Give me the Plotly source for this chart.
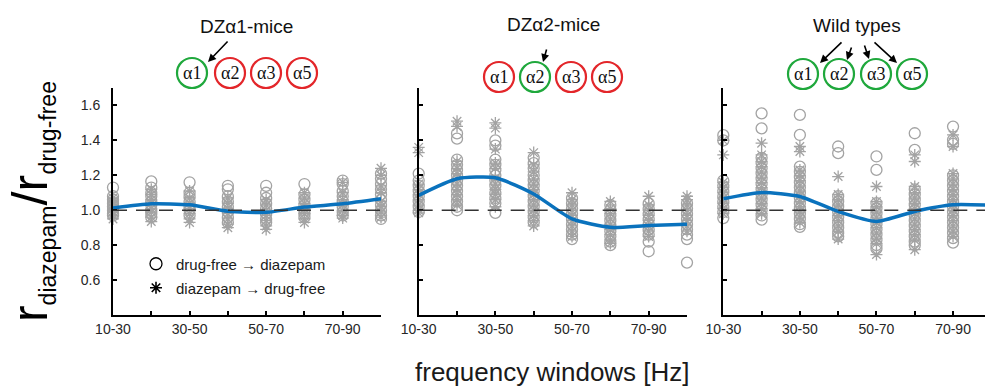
import plotly.graph_objects as go

# ---------------- data ----------------
windows = ["10-30", "20-40", "30-50", "40-60", "50-70", "60-80", "70-90", "80-100"]
tick_text = ["10-30", "", "30-50", "", "50-70", "", "70-90", ""]
y_ticks = [0.6, 0.8, 1.0, 1.2, 1.4, 1.6]

panel_titles = ["DZα1-mice", "DZα2-mice", "Wild types"]
subunits = ["α1", "α2", "α3", "α5"]
# which subunits stay diazepam-sensitive in each mouse line
p1_sensitive = [True, False, False, False]
p2_sensitive = [False, True, False, False]
p3_sensitive = [True, True, True, True]

legend_names = ["drug-free → diazepam", "diazepam → drug-free"]

# DZα1-mice
p1_circles = [
    [1.13, 1.08, 1.06, 1.04, 1.02, 1.0, 0.98, 0.97],
    [1.165, 1.13, 1.1, 1.08, 1.05, 1.03, 1.0, 0.98, 0.96],
    [1.16, 1.1, 1.08, 1.05, 1.02, 1.0, 0.97],
    [1.14, 1.12, 1.08, 1.05, 1.02, 0.99, 0.96, 0.93],
    [1.14, 1.1, 1.07, 1.04, 1.01, 0.98, 0.95, 0.93],
    [1.15, 1.09, 1.06, 1.03, 1.0, 0.98, 0.96],
    [1.17, 1.15, 1.11, 1.08, 1.05, 1.02, 0.99, 0.97],
    [1.21, 1.18, 1.15, 1.12, 1.09, 1.06, 1.03, 1.0, 0.97, 0.95],
]
p1_asterisks = [
    [1.07, 1.05, 1.03, 1.01, 0.99, 0.97, 0.95],
    [1.12, 1.09, 1.06, 1.04, 1.01, 0.99, 0.96, 0.935],
    [1.11, 1.07, 1.04, 1.01, 0.98, 0.95, 0.93],
    [1.07, 1.04, 1.01, 0.98, 0.95, 0.92, 0.9],
    [1.06, 1.03, 1.0, 0.97, 0.94, 0.91, 0.89],
    [1.1, 1.07, 1.04, 1.01, 0.98, 0.95, 0.93],
    [1.16, 1.1, 1.06, 1.03, 1.0, 0.97, 0.955],
    [1.24, 1.2, 1.14, 1.1, 1.05, 1.02, 0.99, 0.96],
]
p1_mean = [1.013, 1.037, 1.031, 0.994, 0.988, 1.018, 1.037, 1.066]

# DZα2-mice
p2_circles = [
    [1.21, 1.17, 1.14, 1.11, 1.08, 1.05, 1.02, 0.99],
    [1.44, 1.41, 1.29, 1.26, 1.23, 1.2, 1.17, 1.14, 1.11, 1.08, 1.05, 1.02, 1.0],
    [1.4, 1.37, 1.29, 1.26, 1.23, 1.2, 1.17, 1.14, 1.1, 1.07, 1.04, 0.985],
    [1.3, 1.27, 1.24, 1.2, 1.17, 1.14, 1.11, 1.08, 1.05, 1.02, 0.99, 0.96, 0.93],
    [1.07, 1.04, 1.01, 0.98, 0.95, 0.92, 0.89, 0.86, 0.835],
    [1.03, 1.0, 0.97, 0.94, 0.91, 0.88, 0.85, 0.82, 0.8],
    [1.04, 1.01, 0.98, 0.95, 0.92, 0.89, 0.86, 0.82, 0.765],
    [1.04, 1.01, 0.98, 0.95, 0.92, 0.89, 0.86, 0.835, 0.7],
]
p2_asterisks = [
    [1.36, 1.33, 1.15, 1.12, 1.09, 1.06, 1.03, 1.0, 0.985],
    [1.51, 1.48, 1.28, 1.24, 1.21, 1.18, 1.15, 1.12, 1.09, 1.06, 1.03],
    [1.5, 1.47, 1.35, 1.27, 1.24, 1.18, 1.15, 1.12, 1.09, 1.06, 1.02],
    [1.33, 1.26, 1.22, 1.18, 1.15, 1.12, 1.09, 1.06, 1.03, 1.0, 0.97, 0.94, 0.91],
    [1.1, 1.06, 1.03, 1.0, 0.97, 0.94, 0.91, 0.88, 0.85],
    [1.05, 1.01, 0.98, 0.95, 0.92, 0.89, 0.86, 0.83, 0.81],
    [1.08, 1.03, 1.0, 0.97, 0.94, 0.91, 0.88, 0.85],
    [1.08, 1.06, 1.03, 1.0, 0.97, 0.94, 0.91, 0.88],
]
p2_mean = [1.085, 1.18, 1.186, 1.093, 0.95, 0.902, 0.913, 0.92]

# Wild types
p3_circles = [
    [1.43, 1.4, 1.17, 1.14, 1.11, 1.08, 1.05, 1.02, 0.99, 0.955],
    [1.555, 1.469, 1.3, 1.27, 1.24, 1.21, 1.18, 1.15, 1.12, 1.09, 1.06, 1.03, 1.0, 0.97, 0.946],
    [1.546, 1.431, 1.25, 1.22, 1.19, 1.16, 1.13, 1.1, 1.07, 1.04, 1.01, 0.98, 0.95, 0.92, 0.905],
    [1.365, 1.327, 1.08, 1.05, 1.02, 0.99, 0.96, 0.93, 0.9, 0.87, 0.85],
    [1.308, 1.231, 1.04, 1.01, 0.98, 0.95, 0.92, 0.89, 0.86, 0.83, 0.8, 0.78],
    [1.441, 1.346, 1.12, 1.09, 1.06, 1.03, 1.0, 0.97, 0.94, 0.91, 0.88, 0.85, 0.82, 0.8],
    [1.479, 1.403, 1.38, 1.2, 1.17, 1.14, 1.11, 1.08, 1.05, 1.02, 0.99, 0.96, 0.93, 0.9, 0.87, 0.84, 0.815],
    [1.45, 1.22, 1.18, 1.14, 1.1, 1.06, 1.02, 0.98, 0.94],
]
p3_asterisks = [
    [1.4, 1.317, 1.16, 1.13, 1.1, 1.07, 1.04, 1.01, 0.98],
    [1.384, 1.317, 1.28, 1.25, 1.22, 1.19, 1.16, 1.13, 1.1, 1.07, 1.04, 1.01, 0.98],
    [1.365, 1.336, 1.23, 1.2, 1.17, 1.14, 1.11, 1.08, 1.05, 1.02, 0.99, 0.96, 0.93],
    [1.193, 1.09, 1.06, 1.03, 1.0, 0.97, 0.94, 0.91, 0.88, 0.835],
    [1.136, 1.05, 1.02, 0.99, 0.96, 0.93, 0.9, 0.87, 0.84, 0.81, 0.746],
    [1.317, 1.279, 1.136, 1.1, 1.07, 1.04, 1.01, 0.98, 0.95, 0.92, 0.89, 0.86, 0.83, 0.774],
    [1.431, 1.365, 1.21, 1.18, 1.15, 1.12, 1.09, 1.06, 1.03, 1.0, 0.97, 0.94, 0.91, 0.88, 0.85],
    [1.4, 1.2, 1.16, 1.12, 1.08, 1.04, 1.0, 0.96],
]
p3_mean = [1.066, 1.102, 1.079, 0.993, 0.936, 0.993, 1.031, 1.028]

# ---------------- styling ----------------
W, H = 985, 388
SANS = "Liberation Sans, Arial, sans-serif"
SERIF = "Liberation Serif, Times New Roman, serif"
GRAY = "#a3a3a3"
BLUE = "#0a72bd"
GREEN = "#1fa83c"
RED = "#e3262a"

def px(x):
    return x / W

def py(y):
    return 1 - y / H

y_dom = [py(315), py(88)]
x_doms = [[px(113), px(381)], [px(418.7), px(687)], [px(723.3), 1.0]]
x_ranges = [[0, 7], [0, 7], [0, (985 - 723.3) / 38.29]]

panels = [
    (p1_circles, p1_asterisks, p1_mean, p1_sensitive),
    (p2_circles, p2_asterisks, p2_mean, p2_sensitive),
    (p3_circles, p3_asterisks, p3_mean, p3_sensitive),
]

fig = go.Figure()
shapes = []
annotations = []

for k, (circ, ast, mean, sens) in enumerate(panels):
    sfx = "" if k == 0 else str(k + 1)
    xa, ya = "x" + sfx, "y" + sfx
    cx = [windows[i] for i, vals in enumerate(circ) for _ in vals]
    cy = [v for vals in circ for v in vals]
    ax_ = [windows[i] for i, vals in enumerate(ast) for _ in vals]
    ay_ = [v for vals in ast for v in vals]
    fig.add_trace(go.Scatter(
        x=ax_, y=ay_, mode="markers", xaxis=xa, yaxis=ya, showlegend=False,
        cliponaxis=False, hoverinfo="skip",
        marker=dict(symbol="asterisk-open", size=10, color=GRAY,
                    line=dict(color=GRAY, width=1.3))))
    fig.add_trace(go.Scatter(
        x=cx, y=cy, mode="markers", xaxis=xa, yaxis=ya, showlegend=False,
        cliponaxis=False, hoverinfo="skip",
        marker=dict(symbol="circle-open", size=11, color=GRAY,
                    line=dict(color=GRAY, width=1.3))))
    fig.add_trace(go.Scatter(
        x=windows, y=mean, mode="lines", xaxis=xa, yaxis=ya, showlegend=False,
        cliponaxis=False, hoverinfo="skip",
        line=dict(color=BLUE, width=3.5, shape="spline", smoothing=0.6)))
    # reference line at 1.0
    shapes.append(dict(type="line", xref=xa, yref=ya, x0=0, x1=7, y0=1.0, y1=1.0,
                       line=dict(color="#333333", width=1.5, dash="14px,9px"), layer="above"))

    xaxis = dict(domain=x_doms[k], anchor=ya, type="category",
                 categoryorder="array", categoryarray=windows,
                 range=x_ranges[k], showline=True, linecolor="black", linewidth=2,
                 ticks="inside", ticklen=4, tickwidth=1.5, tickcolor="black",
                 tickmode="array", tickvals=windows, ticktext=tick_text,
                 tickfont=dict(family=SANS, size=14, color="#262626"),
                 showgrid=False, zeroline=False, fixedrange=True, automargin=False)
    yaxis = dict(domain=y_dom, anchor=xa, range=[0.4, 1.7],
                 showline=True, linecolor="black", linewidth=2,
                 ticks="inside", ticklen=4, tickwidth=1.5, tickcolor="black",
                 tickmode="array", tickvals=y_ticks,
                 ticktext=[f"{v:.1f}" for v in y_ticks],
                 showticklabels=(k == 0), ticklabelstandoff=8,
                 tickfont=dict(family=SANS, size=14, color="#262626"),
                 showgrid=False, zeroline=False, fixedrange=True, automargin=False)
    fig.update_layout(**{"xaxis" + sfx: xaxis, "yaxis" + sfx: yaxis})

# legend traces
fig.add_trace(go.Scatter(x=[None], y=[None], mode="markers", name=legend_names[0],
                         legend="legend",
                         marker=dict(symbol="circle-open", size=12, color="black",
                                     line=dict(color="black", width=1.3))))
fig.add_trace(go.Scatter(x=[None], y=[None], mode="markers", name=legend_names[1],
                         legend="legend2",
                         marker=dict(symbol="asterisk-open", size=10, color="black",
                                     line=dict(color="black", width=1.6))))

# panel headers with subunit circles
title_pos = [(246, 27), (553, 25), (857, 26)]
circle_x = [[192, 230, 266, 302], [499, 535, 571, 607], [803, 839, 876, 912]]
circle_y = [73, 77, 74]
arrows = [
    [((208, 62), (21, -22))],
    [((543, 62), (4, -14))],
    [((820, 63), (23, -22)), ((847, 60), (5, -14)), ((869, 59), (-5, -15)), ((897, 63), (-24, -22))],
]
R = 15
for k, (circ, ast, mean, sens) in enumerate(panels):
    tx, ty = title_pos[k]
    annotations.append(dict(xref="paper", yref="paper", x=px(tx), y=py(ty),
                            text=panel_titles[k], showarrow=False,
                            xanchor="center", yanchor="middle",
                            font=dict(family=SANS, size=19, color="#111111")))
    for j, name in enumerate(subunits):
        cxp, cyp = circle_x[k][j], circle_y[k]
        col = GREEN if sens[j] else RED
        shapes.append(dict(type="circle", xref="paper", yref="paper",
                           x0=px(cxp - R), x1=px(cxp + R), y0=py(cyp + R), y1=py(cyp - R),
                           line=dict(color=col, width=2.2), fillcolor="white", layer="above"))
        annotations.append(dict(xref="paper", yref="paper", x=px(cxp), y=py(cyp),
                                text=name, showarrow=False, xanchor="center", yanchor="middle",
                                font=dict(family=SERIF, size=18, color="#111111")))
    for (hx, hy), (dx, dy) in arrows[k]:
        annotations.append(dict(xref="paper", yref="paper", x=px(hx), y=py(hy),
                                ax=dx, ay=dy, text="", showarrow=True,
                                arrowhead=2, arrowsize=1, arrowwidth=1.6,
                                arrowcolor="black", standoff=0, startstandoff=0))

# y-axis title pieces (rotated)
ytitle_parts = [
    ("r", 50, 29.5, 313.5),
    ("diazepam", 23, 48.4, 255),
    ("/r", 50, 29.5, 190),
    ("drug-free", 23, 48.4, 128),
]
for txt, size, xx, yy in ytitle_parts:
    annotations.append(dict(xref="paper", yref="paper", x=px(xx), y=py(yy),
                            text=txt, showarrow=False, textangle=-90,
                            xanchor="center", yanchor="middle",
                            font=dict(family=SANS, size=size, color="black")))

# x-axis title
annotations.append(dict(xref="paper", yref="paper", x=px(552), y=py(372),
                        text="frequency windows [Hz]", showarrow=False,
                        xanchor="center", yanchor="middle",
                        font=dict(family=SANS, size=26, color="#1a1a1a")))

legend_common = dict(xanchor="left", yanchor="middle", bgcolor="rgba(0,0,0,0)",
                     borderwidth=0, itemwidth=30,
                     font=dict(family=SANS, size=15, color="#1a1a1a"))
fig.update_layout(
    width=W, height=H,
    margin=dict(l=0, r=0, t=0, b=0, autoexpand=False),
    paper_bgcolor="white", plot_bgcolor="white",
    showlegend=True,
    legend=dict(x=px(136), y=py(264), **legend_common),
    legend2=dict(x=px(136), y=py(288), **legend_common),
    shapes=shapes,
    annotations=annotations,
)

fig.write_html("out.html", config={"displayModeBar": False},
               post_script="document.body.style.margin='0';document.body.style.overflow='hidden';")
